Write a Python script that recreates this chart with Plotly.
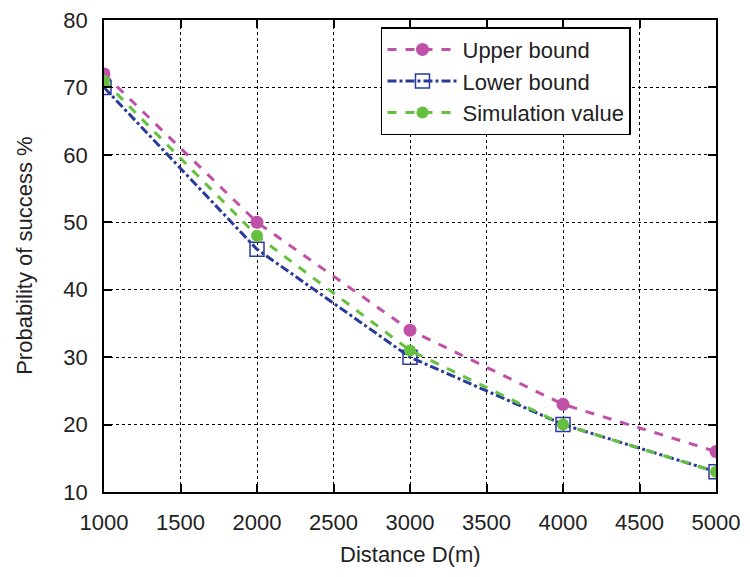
import plotly.graph_objects as go

distance = [1000, 2000, 3000, 4000, 5000]
upper_bound = [72, 50, 34, 23, 16]
lower_bound = [70, 46, 30, 20, 13]
simulation = [71, 48, 31, 20, 13]

x_ticks = [1000, 1500, 2000, 2500, 3000, 3500, 4000, 4500, 5000]
y_ticks = [10, 20, 30, 40, 50, 60, 70, 80]

FONT = "Liberation Sans, Arial, sans-serif"

fig = go.Figure()
fig.add_trace(go.Scatter(
    x=distance, y=upper_bound, name="Upper bound", mode="lines+markers",
    line=dict(color="#c050a8", width=3, dash="dash"),
    marker=dict(symbol="circle", size=13, color="#c050a8")))
fig.add_trace(go.Scatter(
    x=distance, y=lower_bound, name="Lower bound", mode="lines+markers",
    line=dict(color="#2a3a9a", width=3, dash="dashdot"),
    marker=dict(symbol="square-open", size=14, color="#2a3a9a", line=dict(width=1.5))))
fig.add_trace(go.Scatter(
    x=distance, y=simulation, name="Simulation value", mode="lines+markers",
    line=dict(color="#66c040", width=3, dash="dash"),
    marker=dict(symbol="circle", size=12, color="#66c040")))

axis_common = dict(
    showline=True, linecolor="black", linewidth=1.5, mirror="allticks",
    showgrid=True, gridcolor="black", gridwidth=1, griddash="dot",
    ticks="inside", ticklen=8, tickcolor="black", tickwidth=1.5,
    tickfont=dict(family=FONT, size=22, color="#222"),
    zeroline=False, automargin=False, ticklabeloverflow="allow",
)

fig.update_layout(
    width=750, height=577,
    paper_bgcolor="white", plot_bgcolor="white",
    margin=dict(l=96, r=42, t=12, b=93),
    font=dict(family=FONT, color="#222"),
    xaxis=dict(range=[1000, 5000], tickvals=x_ticks, ticklabelstandoff=10, **axis_common),
    yaxis=dict(range=[10, 80], tickvals=y_ticks, ticklabelstandoff=10, **axis_common),
    legend=dict(x=0.4526, y=0.985, xanchor="left", yanchor="top",
                bgcolor="white", bordercolor="black", borderwidth=1.5,
                font=dict(size=22), tracegroupgap=0, itemwidth=70),
    annotations=[
        dict(text="Distance D(m)", xref="paper", yref="paper", x=0.5, y=-0.133,
             xanchor="center", yanchor="middle", showarrow=False,
             font=dict(family=FONT, size=22, color="#222")),
        dict(text="Probability of success %", xref="paper", yref="paper", x=-0.131, y=0.5,
             xanchor="center", yanchor="middle", textangle=-90, showarrow=False,
             font=dict(family=FONT, size=22, color="#222")),
    ],
)

fig.write_html("out.html")
